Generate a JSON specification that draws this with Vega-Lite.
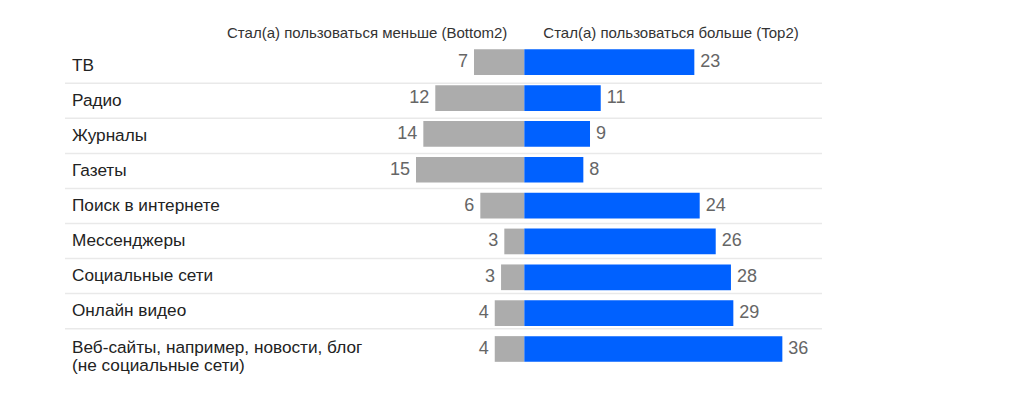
{
  "$schema": "https://vega.github.io/schema/vega-lite/v6.json",
  "width": 1010,
  "height": 395,
  "autosize": "none",
  "padding": 0,
  "config": {"view": {"stroke": null}, "font": "Liberation Sans"},
  "data": {
    "values": [
      {"cat": "ТВ", "less": 7, "more": 23, "lessBar": -6.94, "moreBar": 23.45},
      {"cat": "Радио", "less": 12, "more": 11, "lessBar": -12.28, "moreBar": 10.54},
      {"cat": "Журналы", "less": 14, "more": 9, "lessBar": -13.93, "moreBar": 9.06},
      {"cat": "Газеты", "less": 15, "more": 8, "lessBar": -14.94, "moreBar": 8.14},
      {"cat": "Поиск в интернете", "less": 6, "more": 24, "lessBar": -6.07, "moreBar": 24.19},
      {"cat": "Мессенджеры", "less": 3, "more": 26, "lessBar": -2.76, "moreBar": 26.4},
      {"cat": "Социальные сети", "less": 3, "more": 28, "lessBar": -3.21, "moreBar": 28.5},
      {"cat": "Онлайн видео", "less": 4, "more": 29, "lessBar": -4.08, "moreBar": 28.83},
      {"cat": "Веб-сайты, например, новости, блог\n(не социальные сети)", "less": 4, "more": 36, "lessBar": -4.08, "moreBar": 35.59}
    ]
  },
  "resolve": {"scale": {"y": "independent"}},
  "layer": [
    {
      "transform": [{"filter": {"field": "cat", "oneOf": ["ТВ", "Радио", "Журналы", "Газеты", "Поиск в интернете", "Мессенджеры", "Социальные сети", "Онлайн видео"]}}],
      "mark": {"type": "rule", "color": "#e9e9e9", "strokeWidth": 1.5},
      "encoding": {
        "y": {"field": "cat", "type": "nominal", "bandPosition": 1, "axis": null,
          "scale": {"domain": ["ТВ", "Радио", "Журналы", "Газеты", "Поиск в интернете", "Мессенджеры", "Социальные сети", "Онлайн видео", "Веб-сайты, например, новости, блог\n(не социальные сети)"], "range": [48.25, 363.7], "paddingInner": 0, "paddingOuter": 0}},
        "x": {"datum": -63.35, "type": "quantitative", "axis": null, "scale": {"domain": [-72.32, 66.99], "nice": false, "zero": false}},
        "x2": {"datum": 41.06}
      }
    },
    {
      "mark": {"type": "bar", "height": {"band": 0.717}, "color": "#acacac"},
      "encoding": {
        "y": {"field": "cat", "type": "nominal", "sort": null, "axis": null,
          "scale": {"range": [44.3, 366.9], "paddingInner": 0, "paddingOuter": 0}},
        "x": {"field": "lessBar", "type": "quantitative", "axis": null},
        "x2": {"datum": 0}
      }
    },
    {
      "mark": {"type": "bar", "height": {"band": 0.717}, "color": "#0061ff"},
      "encoding": {
        "y": {"field": "cat", "type": "nominal", "sort": null, "axis": null,
          "scale": {"range": [44.3, 366.9], "paddingInner": 0, "paddingOuter": 0}},
        "x": {"field": "moreBar", "type": "quantitative", "axis": null},
        "x2": {"datum": 0}
      }
    },
    {
      "mark": {"type": "text", "align": "right", "baseline": "middle", "dx": -6, "fontSize": 18, "color": "#666666"},
      "encoding": {
        "y": {"field": "cat", "type": "nominal", "sort": null, "axis": null,
          "scale": {"range": [44.3, 366.9], "paddingInner": 0, "paddingOuter": 0}},
        "x": {"field": "lessBar", "type": "quantitative", "axis": null},
        "text": {"field": "less"}
      }
    },
    {
      "mark": {"type": "text", "align": "left", "baseline": "middle", "dx": 6, "fontSize": 18, "color": "#666666"},
      "encoding": {
        "y": {"field": "cat", "type": "nominal", "sort": null, "axis": null,
          "scale": {"range": [44.3, 366.9], "paddingInner": 0, "paddingOuter": 0}},
        "x": {"field": "moreBar", "type": "quantitative", "axis": null},
        "text": {"field": "more"}
      }
    },
    {
      "transform": [{"filter": {"field": "cat", "oneOf": ["ТВ", "Радио", "Журналы", "Газеты", "Поиск в интернете", "Мессенджеры", "Социальные сети", "Онлайн видео"]}}],
      "mark": {"type": "text", "align": "left", "baseline": "middle", "fontSize": 17.2, "color": "#222222"},
      "encoding": {
        "y": {"field": "cat", "type": "nominal", "axis": null,
          "scale": {"domain": ["ТВ", "Радио", "Журналы", "Газеты", "Поиск в интернете", "Мессенджеры", "Социальные сети", "Онлайн видео", "Веб-сайты, например, новости, блог\n(не социальные сети)"], "range": [48.25, 363.7], "paddingInner": 0, "paddingOuter": 0}},
        "x": {"datum": -62.39, "type": "quantitative"},
        "text": {"field": "cat"}
      }
    },
    {
      "transform": [{"filter": {"field": "cat", "equal": "Веб-сайты, например, новости, блог\n(не социальные сети)"}}],
      "mark": {"type": "text", "align": "left", "baseline": "middle", "fontSize": 17.2, "color": "#222222", "lineBreak": "\n", "lineHeight": 18.5, "dy": 1.5},
      "encoding": {
        "y": {"field": "cat", "type": "nominal", "axis": null,
          "scale": {"domain": ["ТВ", "Радио", "Журналы", "Газеты", "Поиск в интернете", "Мессенджеры", "Социальные сети", "Онлайн видео", "Веб-сайты, например, новости, блог\n(не социальные сети)"], "range": [48.25, 363.7], "paddingInner": 0, "paddingOuter": 0}},
        "x": {"datum": -62.39, "type": "quantitative"},
        "text": {"field": "cat"}
      }
    },
    {
      "data": {"values": [{"row": "header", "text": "Стал(а) пользоваться меньше (Bottom2)"}]},
      "mark": {"type": "text", "align": "right", "baseline": "middle", "fontSize": 15, "color": "#333333"},
      "encoding": {
        "y": {"field": "row", "type": "nominal", "axis": null, "scale": {"domain": ["header"], "range": [21, 44], "paddingInner": 0, "paddingOuter": 0}},
        "x": {"datum": -2.34, "type": "quantitative"},
        "text": {"field": "text"}
      }
    },
    {
      "data": {"values": [{"row": "header", "text": "Стал(а) пользоваться больше (Top2)"}]},
      "mark": {"type": "text", "align": "left", "baseline": "middle", "fontSize": 15, "color": "#333333"},
      "encoding": {
        "y": {"field": "row", "type": "nominal", "axis": null, "scale": {"domain": ["header"], "range": [21, 44], "paddingInner": 0, "paddingOuter": 0}},
        "x": {"datum": 2.62, "type": "quantitative"},
        "text": {"field": "text"}
      }
    }
  ]
}
